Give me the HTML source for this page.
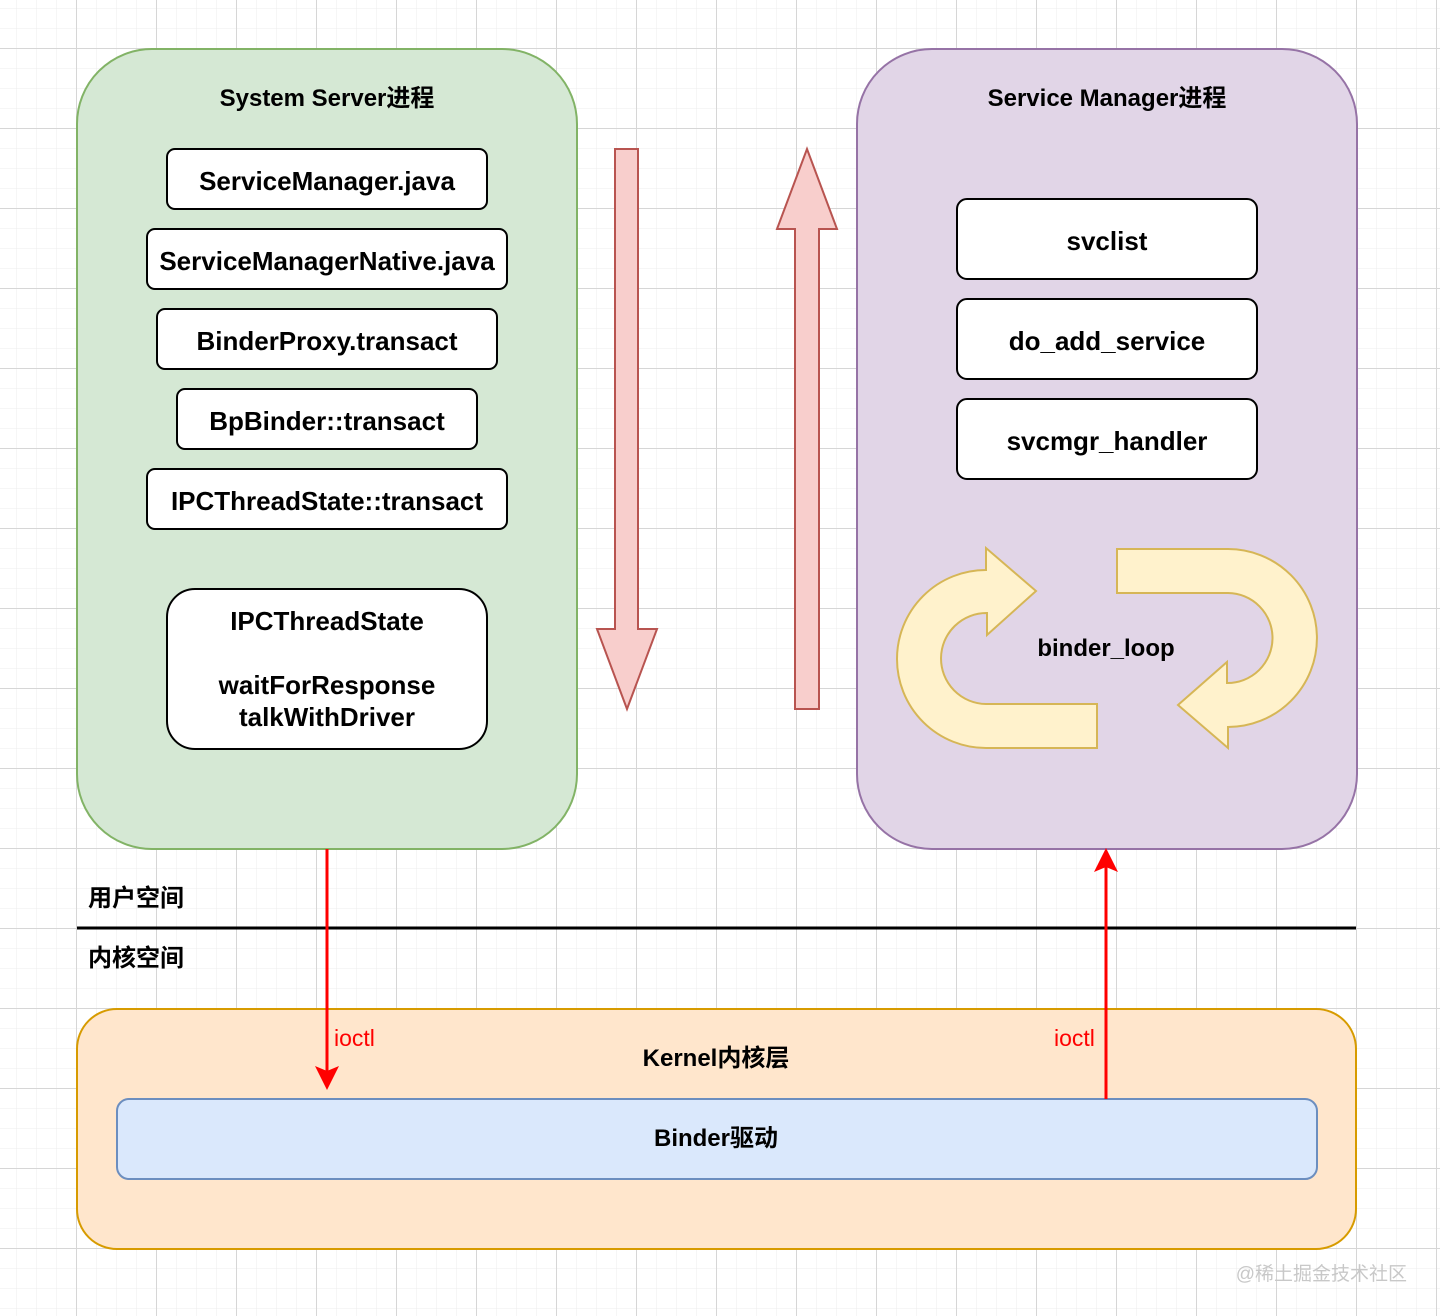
<!DOCTYPE html>
<html><head><meta charset="utf-8"><style>
html,body{margin:0;padding:0;background:#fff}
svg{display:block}
text{font-family:"Liberation Sans","Noto Sans CJK SC",sans-serif;}
</style></head><body>
<svg width="1440" height="1316" viewBox="0 0 1440 1316" xmlns="http://www.w3.org/2000/svg">
<defs>
<pattern id="minor" width="20" height="20" patternUnits="userSpaceOnUse" x="-4" y="8">
<path d="M0 0H20M0 0V20" stroke="#ececec" stroke-width="1" fill="none"/>
</pattern>
<pattern id="major" width="80" height="80" patternUnits="userSpaceOnUse" x="76" y="48">
<path d="M0 0.5H80M0.5 0V80" stroke="#d6d6d6" stroke-width="1" fill="none"/>
</pattern>
</defs>
<rect width="1440" height="1316" fill="url(#minor)"/>
<rect width="1440" height="1316" fill="url(#major)"/>

<rect x="77" y="49" width="500" height="800" rx="75" fill="#d5e8d4" stroke="#82b366" stroke-width="2"/>
<text x="327" y="106" font-size="24" font-weight="bold" text-anchor="middle">System Server进程</text>
<g stroke="#000" stroke-width="2" fill="#fff">
<rect x="167" y="149" width="320" height="60" rx="8"/>
<rect x="147" y="229" width="360" height="60" rx="8"/>
<rect x="157" y="309" width="340" height="60" rx="8"/>
<rect x="177" y="389" width="300" height="60" rx="8"/>
<rect x="147" y="469" width="360" height="60" rx="8"/>
<rect x="167" y="589" width="320" height="160" rx="28"/>
</g>
<g font-size="26" font-weight="bold" text-anchor="middle">
<text x="327" y="190">ServiceManager.java</text>
<text x="327" y="270">ServiceManagerNative.java</text>
<text x="327" y="350">BinderProxy.transact</text>
<text x="327" y="430">BpBinder::transact</text>
<text x="327" y="510">IPCThreadState::transact</text>
<text x="327" y="630">IPCThreadState</text>
<text x="327" y="694">waitForResponse</text>
<text x="327" y="726">talkWithDriver</text>
</g>

<path d="M615 149H638V629H657L627 709L597 629H615Z" fill="#f8cecc" stroke="#b85450" stroke-width="2"/>
<path d="M795 709H819V229H837L807 149L777 229H795Z" fill="#f8cecc" stroke="#b85450" stroke-width="2"/>

<rect x="857" y="49" width="500" height="800" rx="75" fill="#e1d5e7" stroke="#9673a6" stroke-width="2"/>
<text x="1107" y="106" font-size="24" font-weight="bold" text-anchor="middle">Service Manager进程</text>
<g stroke="#000" stroke-width="2" fill="#fff">
<rect x="957" y="199" width="300" height="80" rx="10"/>
<rect x="957" y="299" width="300" height="80" rx="10"/>
<rect x="957" y="399" width="300" height="80" rx="10"/>
</g>
<g font-size="26" font-weight="bold" text-anchor="middle">
<text x="1107" y="250">svclist</text>
<text x="1107" y="350">do_add_service</text>
<text x="1107" y="450">svcmgr_handler</text>
</g>
<path d="M1097 748H986A89 89 0 0 1 986 570V548L1036 591L987 635V613A45 45 0 0 0 986 704H1097Z" fill="#fff2cc" stroke="#d6b656" stroke-width="2"/>
<path d="M1117 549H1228A89 89 0 0 1 1228 727V748L1178 705L1227 662V683A45 45 0 0 0 1228 593H1117Z" fill="#fff2cc" stroke="#d6b656" stroke-width="2"/>
<text x="1106" y="656" font-size="24" font-weight="bold" text-anchor="middle">binder_loop</text>

<text x="88" y="906" font-size="24" font-weight="bold">用户空间</text>
<line x1="77" y1="928" x2="1356" y2="928" stroke="#000" stroke-width="3"/>
<text x="88" y="966" font-size="24" font-weight="bold">内核空间</text>

<rect x="77" y="1009" width="1279" height="240" rx="40" fill="#ffe6cc" stroke="#d79b00" stroke-width="2"/>
<text x="716" y="1066" font-size="24" font-weight="bold" text-anchor="middle">Kernel内核层</text>
<rect x="117" y="1099" width="1200" height="80" rx="12" fill="#dae8fc" stroke="#6c8ebf" stroke-width="2"/>
<text x="716" y="1146" font-size="24" font-weight="bold" text-anchor="middle">Binder驱动</text>

<line x1="327" y1="849" x2="327" y2="1075" stroke="#ff0000" stroke-width="3"/>
<path d="M315 1066L327 1090L339 1066L327 1071Z" fill="#ff0000"/>
<line x1="1106" y1="1099" x2="1106" y2="864" stroke="#ff0000" stroke-width="3"/>
<path d="M1094 872L1106 848L1118 872L1106 867Z" fill="#ff0000"/>
<text x="334" y="1046" font-size="23" fill="#ff0000">ioctl</text>
<text x="1054" y="1046" font-size="23" fill="#ff0000">ioctl</text>

<text x="1407" y="1280" font-size="19" fill="#c8c8c8" text-anchor="end">@稀土掘金技术社区</text>
</svg>
</body></html>
